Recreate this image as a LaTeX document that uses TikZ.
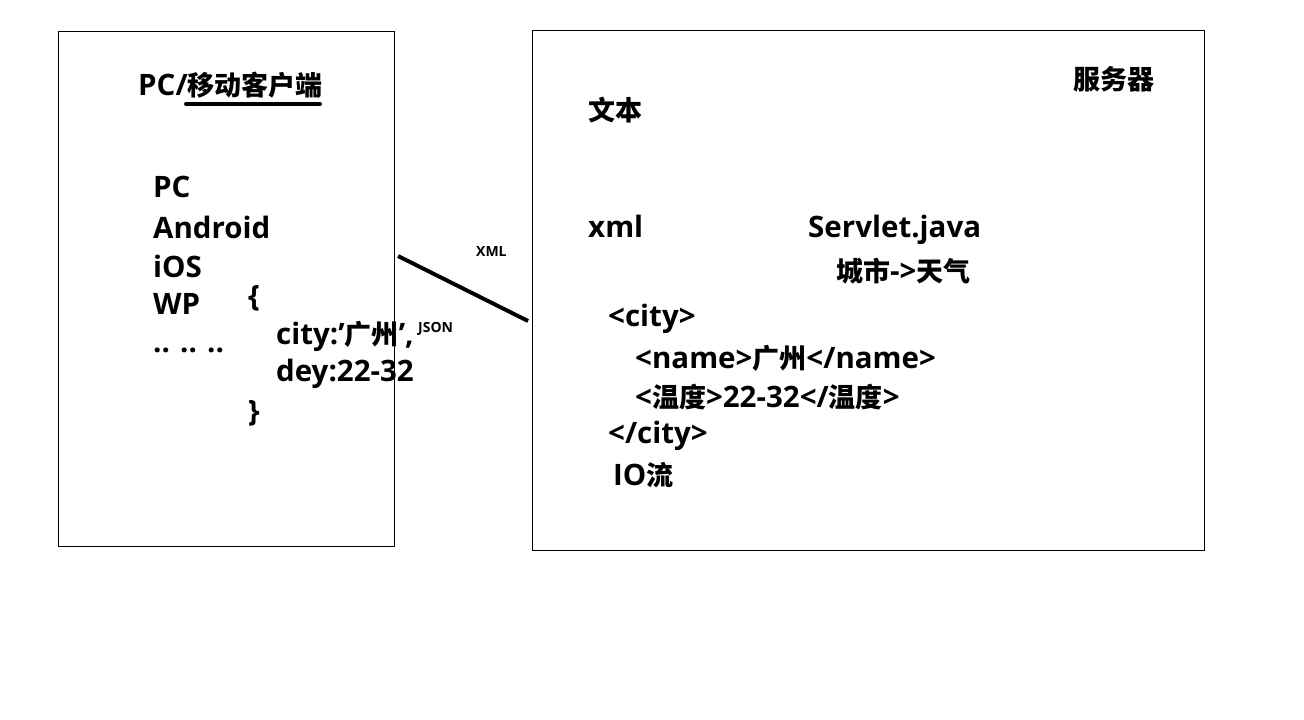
\documentclass[tikz,border=0pt]{standalone}
\usepackage{fontspec}
\setmainfont{Open Sans}[BoldFont={Open Sans Bold}]
\newfontfamily\cjk{Noto Sans CJK SC Bold}
\newcommand{\zh}[1]{{\cjk\fontsize{27}{30}\selectfont #1}}
\newcommand{\sq}{{\char39}}
\begin{document}
\begin{tikzpicture}[x=1pt,y=-1pt,
  panel/.style={draw=black,line width=1pt,inner sep=0pt,anchor=north west},
  txt/.style={anchor=west,inner sep=0pt,font=\bfseries\fontsize{29.5}{32}\selectfont},
  small/.style={anchor=west,inner sep=0pt,font=\bfseries\fontsize{14}{16}\selectfont},
  link/.style={line width=4pt}]
\useasboundingbox[fill=white] (0,0) rectangle (1304,720);
% boxes
\node[panel,minimum width=336pt,minimum height=515pt] (client) at (58,31) {};
\node[panel,minimum width=672pt,minimum height=520pt] (server) at (532,30) {};
% client texts
\node[txt] (ctitle) at (138,85) {PC/\zh{移动客户端}};
\coordinate (ulA) at (186,104);
\coordinate (ulB) at (320,104);
\draw[line width=4pt,line cap=round] (ulA) -- (ulB);
\node[txt] (pc) at (153,187) {PC};
\node[txt] (android) at (153,227) {Android};
\node[txt] (ios) at (153,266) {iOS};
\node[txt] (wp) at (153,304) {WP};
\node[txt] (dots) at (153,350) {.. .. ..};
\node[txt] (lbrace) at (248,298) {\{};
\node[txt] (city) at (276,336) {city:\sq\zh{广州}\sq,};
\node[txt] (dey) at (276,374) {dey:22-32};
\node[txt] (rbrace) at (248,413) {\}};
\node[small] (json) at (418,329) {JSON};
% connector
\coordinate (la) at (398,256);
\coordinate (lb) at (528,321);
\draw[link] (la) -- (lb);
\node[small] (xml) at (476,252) {XML};
% server texts
\node[txt] (stitle) at (1073,79) {\zh{服务器}};
\node[txt] (wenben) at (588,110) {\zh{文本}};
\node[txt] (xmltxt) at (588,226) {xml};
\node[txt] (servlet) at (808,230) {Servlet.java};
\node[txt] (map) at (836,271) {\zh{城市}->\zh{天气}};
\node[txt] (c1) at (608,319) {<city>};
\node[txt] (c2) at (635,358) {<name>\zh{广州}</name>};
\node[txt] (c3) at (635,397) {<\zh{温度}>22-32</\zh{温度}>};
\node[txt] (c4) at (608,436) {</city>};
\node[txt] (io) at (613,475) {IO\zh{流}};
\end{tikzpicture}
\end{document}
